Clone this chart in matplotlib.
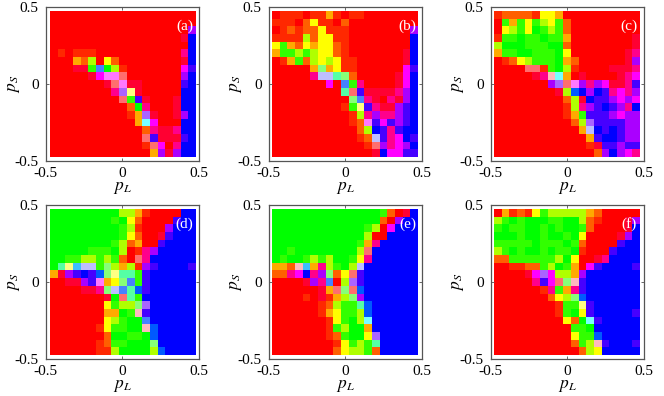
import numpy as np
from matplotlib import pyplot as plt

plt.rcParams['font.family'] = ['Liberation Serif', 'DejaVu Serif']
plt.rcParams['mathtext.fontset'] = 'stix'

# grid centres of p_L and p_S
p_values = [-0.45, -0.40, -0.35, -0.30, -0.25, -0.20, -0.15, -0.10, -0.05, 0.0,
            0.05, 0.10, 0.15, 0.20, 0.25, 0.30, 0.35, 0.40, 0.45]
ticks = [-0.5, 0, 0.5]
tick_labels = ['-0.5', '0', '0.5']
panel_labels = ['(a)', '(b)', '(c)', '(d)', '(e)', '(f)']

# colour code of a cell -> red, green, blue share
codes = {
    'R': (255, 0, 0), 'a': (255, 40, 0), 'A': (255, 95, 0), 'O': (255, 170, 0),
    'Y': (255, 255, 0), 'y': (255, 255, 130), 'L': (175, 255, 0), 'g': (50, 255, 0),
    'G': (0, 255, 0), 'E': (135, 255, 120), 'T': (85, 255, 165), 'C': (120, 255, 255),
    'Q': (60, 190, 255), 'N': (70, 130, 255), 'J': (0, 90, 255), 'W': (190, 190, 255),
    'B': (0, 0, 255), 'I': (70, 0, 255), 'V': (170, 0, 255), 'H': (170, 100, 255),
    'M': (255, 0, 255), 'U': (255, 120, 255), 'P': (255, 0, 140), 'c': (255, 0, 50),
    'S': (255, 110, 110), 'K': (255, 185, 190),
}

# rows run from p_S = 0.45 down to -0.45
panel_a = [
    "RRRRRRRRRRRRRRRRRRR",
    "RRRRRRRRRRRRRRRRRRR",
    "RRRRRRRRRRRRRRRRRRV",
    "RRRRRRRRRRRRRRRRRcB",
    "RRRRRRRRRRRRRRRRRRB",
    "RaRaaaRRRRRRRRRRRPB",
    "RRROALRYARRRRRRRRcB",
    "RRRccgNGLaRRRRRRRMI",
    "RRRRRcMUUSRRRRRRRVB",
    "RRRRRRRcSUccRRRRRIB",
    "RRRRRRRRPHycRRRRRBB",
    "RRRRRRRRRSgIcRRRcBB",
    "RRRRRRRRRRAGPRRRcBB",
    "RRRRRRRRRRaOHcRRcVB",
    "RRRRRRRRRRROCMRRRBB",
    "RRRRRRRRRRRRAPccPBB",
    "RRRRRRRRRRRRSIcccIB",
    "RRRRRRRRRRRRaSMRPBB",
    "RRRRRRRRRRRRROVcVBB",
]
panel_b = [
    "RaaaRaaOaRaaRRRRRRR",
    "aaaRAYaaRARRRRRRRRR",
    "RaAaAAYaaaRRRRRRRRV",
    "aaaaLAYYaaRRRRRRRRB",
    "YgOAYOYYAaRRRRRRRRB",
    "OggLgLYYAaRRRRRRRcB",
    "RaOgALYLYaaRRRRRRcB",
    "RRRRROEOYaaRRRRRRMI",
    "RRRRRPWWTEARRRRRcMB",
    "RRRRRRRMRNgPRRRRcMB",
    "RRRRRRRRRTSIccccPVB",
    "RRRRRRRRRRENPcRPcVB",
    "RRRRRRRRRagyIPccVIB",
    "RRRRRRRRRRaLPVPPVIB",
    "RRRRRRRRRRaAUIMIVIB",
    "RRRRRRRRRRRALBIPIBB",
    "RRRRRRRRRRRaAWIPMBI",
    "RRRRRRRRRRRRaSVPMVB",
    "RRRRRRRRRRRRRcBMMII",
]
panel_c = [
    "aAAAAaYYORRRRRRRRRR",
    "RgOgYgLYgARRRRRRRRR",
    "RYLgYGgLgARRRRRRRRR",
    "aggGggGggORRRRRRRRc",
    "LGGGgggGGARRRRRRRRc",
    "OggGGgggGYRRRRRRRcP",
    "RaAYLgggGOARRRRRRcV",
    "RRRRSSagGLaRRRRcccP",
    "RRRRRcPKCORcRRRRcPM",
    "RRRRRRRVHSUVPVMccPI",
    "RRRRRRRRcLJBVBIPMPV",
    "RRRRRRRRRALcBIIVMVM",
    "RRRRRRRRRaLPVIBIVPB",
    "RRRRRRRRRaOgIIIVMVV",
    "RRRRRRRRRRALHIIIIVV",
    "RRRRRRRRRRROWBIBIVV",
    "RRRRRRRRRRRROIBBIVV",
    "RRRRRRRRRRRRacIIVII",
    "RRRRRRRRRRRRRAVBVMP",
]
panel_d = [
    "GGGGGGGGGLLOaRRRRBB",
    "GGGGGGGGgGYARRRRIBB",
    "GGGGGGGGGgLaRRRVBBB",
    "GGGGGGGGGgYARRcIBBB",
    "GGGGGGGGgLAORRIBBBB",
    "GGGGGgggGLRaPVBBBBB",
    "GGggLLgLgARSPBBBBBB",
    "GTyQWWgELOLaVIBBBBI",
    "OcVIBIJEyTTgIBBBBBB",
    "RRccVIUOYENgIBBBBBB",
    "RRRRccPEWNTJIBBBBBB",
    "RRRRRRRcGSTgBBBBBBB",
    "RRRRRRRYgLLEHBBBBBB",
    "RRRRRRROOGgKIBBBBBB",
    "RRRRRRRYLgGGNBBBBBB",
    "RRRRRRaYggGGKJBBBBB",
    "RRRRRRRAGGggGJBBBBB",
    "RRRRRRaAggGGGEBBBBB",
    "RRRRRRaaLGGGGLJBBBB",
]
panel_e = [
    "GGGGGGGGGGGGGGgARcB",
    "GGGGGGGGGGGGGGARVBB",
    "GGGGGGGGGGGGgLRMBBB",
    "GGGGGGGGGGGGLRRBBBB",
    "GGGGGGGGGGGgOPBBBBB",
    "GGgGGGGGGGGLSBBBBBB",
    "GgGGgLgLGGgYPBBBBBB",
    "OOAKQOPLgGLWBBBBBBB",
    "AAPMBPVEAYSIBBBBBBB",
    "RRRRcVPNRLHIBBBBBBB",
    "RRRRRRcOSESJBBBBBBB",
    "RRRRaRcaOLEVBBBBBBB",
    "RRRRRRaALggTJBBBBBB",
    "RRRRRRaOYggLJBBBBBB",
    "RRRRRRRaYgGLCBBBBBB",
    "RRRRRRRagLGGOBBBBBB",
    "RRRRRRRaAgGGYHBBBBB",
    "RRRRRRRRaYgLgTBBBBB",
    "RRRRRRRRAYLLgABBBBB",
]
panel_f = [
    "ROaAaYgLLLLLOARRRRR",
    "LgGgGGGggGGLAaRRRcV",
    "gGggGGgGgGGgARRRRcB",
    "GGGgGGgGGgGYRRRRcVB",
    "gggggGgggGgARRRRIBB",
    "LgGgGGgGggGaRRRIBBB",
    "AAggggggLGYRRcPBBBB",
    "RRaaAAgLGgORMIBBBBI",
    "RRRRcMHMLLOVBBBBBBB",
    "RRRRRPIMSEKIBBBBBBB",
    "RRRRRRaPgOPIBBBBBBB",
    "RRRRRRRAYLEJBBBBBBB",
    "RRRRRRRRaggyIBBBBBB",
    "RRRRRRRRagGYIBBBBBI",
    "RRRRRRRRRYAGCIBBBBB",
    "RRRRRRRRRRggGBBBBBB",
    "RRRRRRRRRRYggJBBBBB",
    "RRRRRRRRRRAgLKIBBBI",
    "RRRRRRRRRRRALYBBBBB",
]
panels = [panel_a, panel_b, panel_c, panel_d, panel_e, panel_f]

W, H = 664.0, 396.0
lefts = [45.7, 268.5, 490.5]
tops = [7.0, 205.0]
side = 153.5


def to_rgb(rows):
    return np.array([[codes[ch] for ch in row] for row in rows]) / 255.0


def draw_panel(ax, rows, label):
    half = 0.5 * (p_values[1] - p_values[0])
    ax.imshow(to_rgb(rows), aspect='auto', interpolation='nearest',
              extent=[p_values[0] - half, p_values[-1] + half,
                      p_values[0] - half, p_values[-1] + half])
    ax.set_xlim(-0.5, 0.5)
    ax.set_ylim(-0.5, 0.5)
    ax.set_xticks(ticks)
    ax.set_xticklabels(tick_labels)
    ax.set_yticks(ticks)
    ax.set_yticklabels(tick_labels)
    ax.tick_params(direction='in', length=2.5, width=0.7, color='#666666',
                   top=True, right=True, labelsize=11)
    ax.tick_params(axis='x', pad=5)
    ax.tick_params(axis='y', pad=5)
    for s in ax.spines.values():
        s.set_linewidth(0.9)
        s.set_color('#555555')
    ax.set_xlabel(r'$p_L$', fontsize=12.5, labelpad=-0.5)
    ax.set_ylabel(r'$p_S$', fontsize=12.5, labelpad=-5)
    ax.text(0.405, 0.375, label, color='white', fontsize=11, ha='center', va='center')


def main():
    fig = plt.figure(figsize=(W / 100, H / 100), dpi=100)
    for i in range(6):
        left = lefts[i % 3]
        top = tops[i // 3]
        ax = fig.add_axes([left / W, 1 - (top + side) / H, side / W, side / H])
        draw_panel(ax, panels[i], panel_labels[i])
    fig.savefig('out.png', dpi=100)


if __name__ == "__main__":
    main()
